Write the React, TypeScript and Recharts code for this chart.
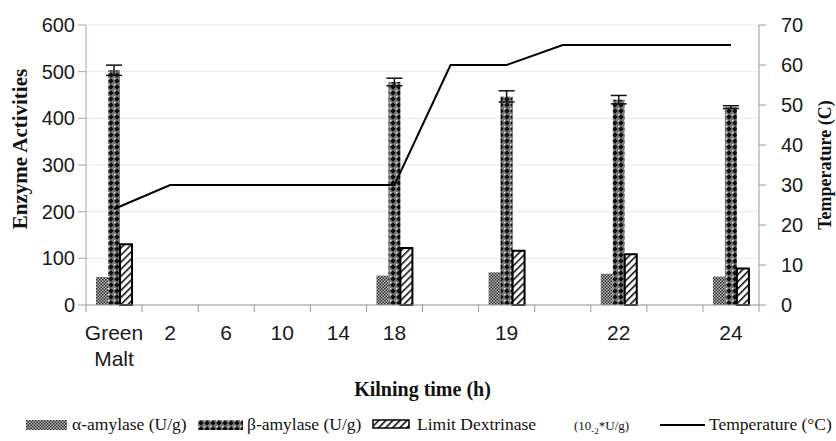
import React from "react";
import { Bar, CartesianGrid, ComposedChart, ErrorBar, Line, XAxis, YAxis } from "recharts";

// kilning time categories (blank ones carry the temperature ramp only)
const categories = ["Green Malt", "2", "6", "10", "14", "18", "", "19", "", "22", "", "24"];
const alphaAmylase = [60, null, null, null, null, 63, null, 70, null, 67, null, 61];
const betaAmylase = [503, null, null, null, null, 478, null, 447, null, 440, null, 424];
const betaError = [11, null, null, null, null, 8, null, 12, null, 9, null, 3];
const limitDextrinase = [130, null, null, null, null, 122, null, 116, null, 109, null, 78];
const temperature = [24, 30, 30, 30, 30, 30, 60, 60, 65, 65, 65, 65];

const enzymeTicks = [0, 100, 200, 300, 400, 500, 600];
const tempTicks = [0, 10, 20, 30, 40, 50, 60, 70];

const data = categories.map((cat, i) => ({
  cat,
  alpha: alphaAmylase[i],
  beta: betaAmylase[i],
  betaErr: betaError[i],
  ld: limitDextrinase[i],
  temp: temperature[i],
}));

const SANS = "'Liberation Sans', Arial, Helvetica, sans-serif";
const SERIF = "'Liberation Serif', 'Times New Roman', serif";
const AXIS = "#9a9a9a";

// label under each band + tick marks on the band edges
function CatTick({ x, y, payload, index }: any) {
  const half = payload.offset || 28;
  const words = String(payload.value).split(" ");
  const last = index === categories.length - 1;
  return (
    <g>
      <line x1={x - half} x2={x - half} y1={y} y2={y + 7} stroke={AXIS} />
      {last && <line x1={x + half} x2={x + half} y1={y} y2={y + 7} stroke={AXIS} />}
      <text x={x} y={y} textAnchor="middle" fontSize={21} fontFamily={SANS} fill="#1a1a1a">
        {words.map((w, i) => (
          <tspan key={i} x={x} dy={i === 0 ? 35 : 26}>{w}</tspan>
        ))}
      </text>
    </g>
  );
}

function Patterns() {
  return (
    <svg width={0} height={0} style={{ position: "absolute" }}>
      <defs>
        <pattern id="alphaPat" width="3" height="3" patternUnits="userSpaceOnUse">
          <rect width="3" height="3" fill="#bdbdbd" />
          <rect width="1.5" height="1.5" fill="#2a2a2a" />
          <rect x="1.5" y="1.5" width="1.5" height="1.5" fill="#2a2a2a" />
        </pattern>
        <pattern id="betaPat" width="6" height="6" patternUnits="userSpaceOnUse">
          <rect width="6" height="6" fill="#7c7c7c" />
          <path d="M3 0.3 L5.7 3 L3 5.7 L0.3 3 Z" fill="#0d0d0d" />
          <rect x="0" y="0" width="1.3" height="1.3" fill="#f2f2f2" />
        </pattern>
        <pattern id="ldPat" width="5" height="5" patternUnits="userSpaceOnUse" patternTransform="rotate(45)">
          <rect width="5" height="5" fill="#fff" />
          <rect width="1.6" height="5" fill="#111" />
        </pattern>
      </defs>
    </svg>
  );
}

function Swatch({ fill, width, border }: { fill: string; width: number; border?: boolean }) {
  return (
    <svg width={width} height={10} style={{ display: "block" }}>
      <rect x={border ? 1 : 0} y={border ? 1 : 0} width={border ? width - 2 : width} height={border ? 8 : 10}
        fill={fill} stroke={border ? "#000" : "none"} strokeWidth={border ? 1.5 : 0} />
    </svg>
  );
}

const legendText: React.CSSProperties = { position: "absolute", top: 414, fontFamily: SERIF, fontSize: 17.5, color: "#111", whiteSpace: "nowrap" };

export default function App() {
  return (
    <div style={{ position: "relative", width: 836, height: 441, background: "#fff" }}>
      <style>{`body{margin:0}`}</style>
      <Patterns />
      <ComposedChart width={836} height={441} data={data} margin={{ top: 25, right: 0, bottom: 76, left: 0 }}
        barSize={12} barGap={0}>
        <CartesianGrid yAxisId="enzyme" vertical={false} stroke="#e6e9f0" />
        <XAxis dataKey="cat" interval={0} tickLine={false} tickSize={0} tickMargin={0} stroke={AXIS}
          height={60} tick={<CatTick />} />
        <YAxis yAxisId="enzyme" domain={[0, 600]} ticks={enzymeTicks} width={86} tickSize={8} tickMargin={3}
          stroke="#9aa6bb" tick={{ fontSize: 20, fill: "#1a1a1a", fontFamily: SANS }} />
        <YAxis yAxisId="temp" orientation="right" domain={[0, 70]} ticks={tempTicks} width={77} tickSize={7} tickMargin={15}
          stroke={AXIS} tick={{ fontSize: 20, fill: "#1a1a1a", fontFamily: SANS }}
          label={{ value: "Temperature (C)", angle: -90, position: "insideRight", offset: 11,
            style: { textAnchor: "middle", fontFamily: SERIF, fontWeight: "bold", fontSize: 18, fill: "#111" } }} />
        <Bar yAxisId="enzyme" dataKey="alpha" fill="url(#alphaPat)" isAnimationActive={false} />
        <Bar yAxisId="enzyme" dataKey="beta" fill="url(#betaPat)" isAnimationActive={false}>
          <ErrorBar dataKey="betaErr" width={8} stroke="#111" strokeWidth={1.5} />
        </Bar>
        <Bar yAxisId="enzyme" dataKey="ld" fill="url(#ldPat)" stroke="#000" strokeWidth={2}
          isAnimationActive={false} />
        <Line yAxisId="temp" type="linear" dataKey="temp" stroke="#000" strokeWidth={2}
          dot={false} activeDot={false} isAnimationActive={false} />
      </ComposedChart>

      <svg width={40} height={300} style={{ position: "absolute", left: 0, top: 0 }}>
        <text transform="translate(27,149) rotate(-90)" textAnchor="middle" fontFamily={SERIF}
          fontWeight="bold" fontSize={21} fill="#111">Enzyme Activities</text>
      </svg>

      <div style={{ position: "absolute", top: 378, left: 86, width: 673, textAlign: "center",
        fontFamily: SERIF, fontWeight: "bold", fontSize: 20, color: "#111" }}>
        Kilning time (h)
      </div>

      {/* legend */}
      <div style={{ position: "absolute", top: 420, left: 26 }}><Swatch fill="url(#alphaPat)" width={41} /></div>
      <div style={{ ...legendText, left: 72 }}>α-amylase (U/g)</div>
      <div style={{ position: "absolute", top: 420, left: 198 }}><Swatch fill="url(#betaPat)" width={45} /></div>
      <div style={{ ...legendText, left: 247 }}>β-amylase (U/g)</div>
      <div style={{ position: "absolute", top: 419, left: 372 }}><Swatch fill="url(#ldPat)" width={38} border /></div>
      <div style={{ ...legendText, left: 417 }}>Limit Dextrinase</div>
      <div style={{ ...legendText, left: 574, top: 418, fontSize: 13 }}>(10<sub style={{ fontSize: 9 }}>-2</sub>*U/g)</div>
      <div style={{ position: "absolute", top: 424, left: 660, width: 45, height: 2, background: "#000" }} />
      <div style={{ ...legendText, left: 709 }}>Temperature (°C)</div>
    </div>
  );
}
